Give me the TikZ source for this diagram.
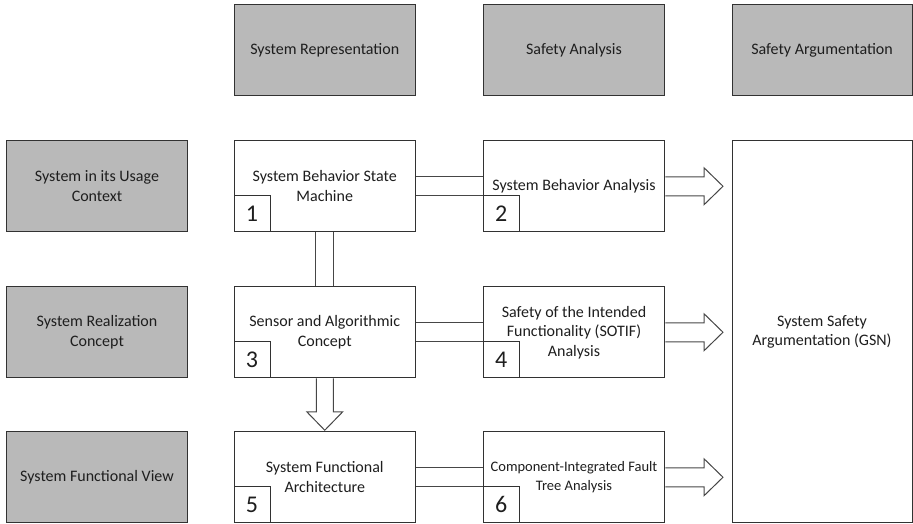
\documentclass[tikz,border=0pt]{standalone}
\usepackage{fontspec}
\setmainfont{Carlito}
\usetikzlibrary{calc}
\definecolor{boxgray}{RGB}{185,185,185}
\definecolor{edgecol}{RGB}{50,50,50}
\definecolor{conncol}{RGB}{70,70,70}
\definecolor{txt}{RGB}{30,30,30}
\begin{document}
\begin{tikzpicture}[x=1pt,y=-1pt,
  box/.style={draw=edgecol, line width=1pt, minimum width=181.5pt, minimum height=91pt, inner sep=0pt, align=center, font=\fontsize{16}{19.5}\selectfont, text=txt},
  graybox/.style={box, fill=boxgray},
  whitebox/.style={box, fill=white},
  numbox/.style={draw=edgecol, line width=1pt, minimum width=36pt, minimum height=36pt, inner sep=0pt, font=\fontsize{24}{24}\selectfont, text=txt, anchor=south west},
  conn/.style={draw=conncol, line width=1pt}]
\useasboundingbox (0,0) rectangle (913,524);
% headers
\node[graybox] (h1) at (324.75,50) {System Representation};
\node[graybox] (h2) at (574,50) {Safety Analysis};
\node[graybox, minimum width=180pt] (h3) at (822,50) {Safety Argumentation};
% left column
\node[graybox] (l1) at (97,186.25) {System in its Usage\\Context};
\node[graybox] (l2) at (97,332.25) {System Realization\\Concept};
\node[graybox] (l3) at (97,477.25) {System Functional View};
% boxes
\node[whitebox] (b1) at (324.75,186.25) {System Behavior State\\Machine};
\node[whitebox] (b2) at (574,186.25) {System Behavior Analysis};
\node[whitebox] (b3) at (324.75,332.25) {Sensor and Algorithmic\\Concept};
\node[whitebox] (b4) at (574,332.25) {Safety of the Intended\\Functionality (SOTIF)\\Analysis};
\node[whitebox] (b5) at (324.75,477.25) {System Functional\\Architecture};
\node[whitebox, font=\fontsize{14.5}{19}\selectfont] (b6) at (574,477.25) {Component-Integrated Fault\\Tree Analysis};
\node[whitebox, minimum width=180pt, minimum height=381.5pt] (g) at (822,331.75) {System Safety\\Argumentation (GSN)};
% number boxes
\node[numbox] (n1) at (b1.south west) {1};
\node[numbox] (n2) at (b2.south west) {2};
\node[numbox] (n3) at (b3.south west) {3};
\node[numbox] (n4) at (b4.south west) {4};
\node[numbox] (n5) at (b5.south west) {5};
\node[numbox] (n6) at (b6.south west) {6};
% horizontal double-line connectors
\foreach \a/\b in {b1/b2, b3/b4, b5/b6} {
  \draw[conn] ($(\a.east)+(0,-9.5)$) -- ($(\b.west)+(0,-9.5)$);
  \draw[conn] ($(\a.east)+(0,9.5)$) -- ($(\b.west)+(0,9.5)$);
}
% block arrows to the argumentation box
\foreach \a/\t in {b2/t1, b4/t2, b6/t3} {
  \coordinate (\t) at ($(g.west |- \a.east)+(-8.5,0)$);
  \draw[conn] ($(\a.east)+(0,-9.5)$) -- ($(\t)+(-19,-9.5)$) -- ($(\t)+(-19,-18.5)$) -- (\t)
    -- ($(\t)+(-19,18.5)$) -- ($(\t)+(-19,9.5)$) -- ($(\a.east)+(0,9.5)$);
}
% vertical connector 1 -> 3
\draw[conn] ($(b1.south)+(-9,0)$) -- ($(b3.north)+(-9,0)$);
\draw[conn] ($(b1.south)+(9,0)$) -- ($(b3.north)+(9,0)$);
% block arrow 3 -> 5
\coordinate (t4) at ($(b5.north)+(0,-1)$);
\draw[conn] ($(b3.south)+(-8.5,0)$) -- ($(t4)+(-8.5,-18.5)$) -- ($(t4)+(-18,-18.5)$) -- (t4)
  -- ($(t4)+(18,-18.5)$) -- ($(t4)+(8.5,-18.5)$) -- ($(b3.south)+(8.5,0)$);
\end{tikzpicture}
\end{document}
